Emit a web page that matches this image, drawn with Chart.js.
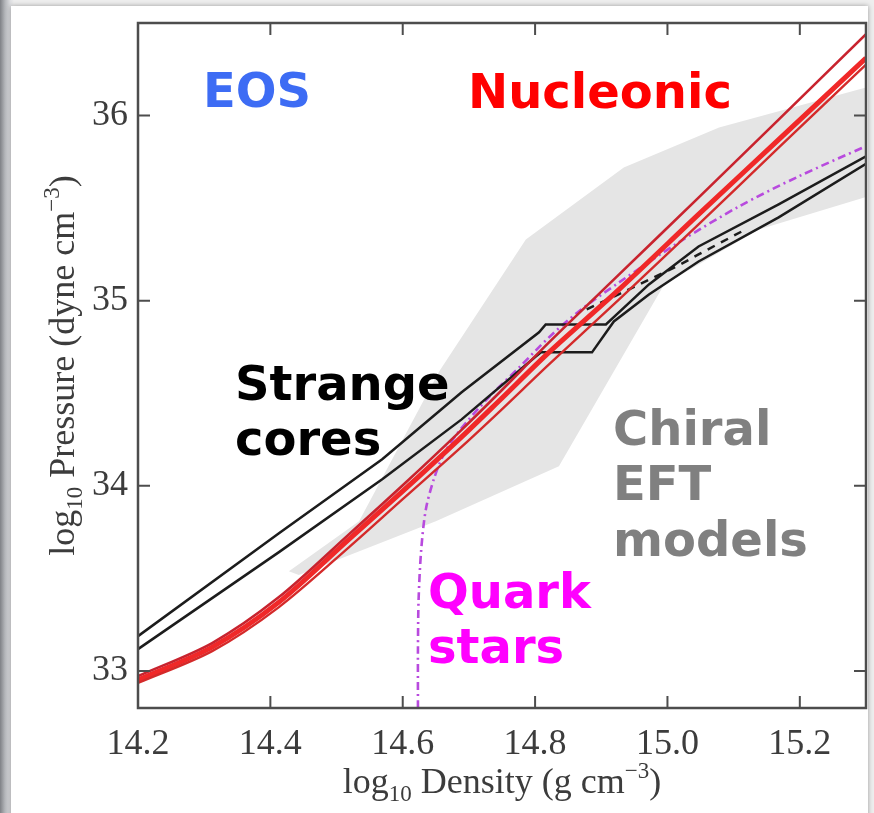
<!DOCTYPE html>
<html><head><meta charset="utf-8">
<script src="https://cdn.jsdelivr.net/npm/chart.js@4.4.1/dist/chart.umd.min.js"></script>
<style>
html,body{margin:0;padding:0;width:874px;height:813px;overflow:hidden;}
body{background:linear-gradient(to right,#7f8186 0px,#b4b6ba 5px,#dcdde0 10px,#eeeeee 14px);}
#card{position:absolute;left:11px;top:6px;width:857px;height:820px;background:#fff;box-shadow:0 0 5px rgba(0,0,0,0.35);}
#c{position:absolute;left:0;top:0;}
</style></head><body>
<div id="card"></div>
<canvas id="c" width="874" height="813"></canvas>
<script>
// ---------- data ----------
const densityTicks  = [14.2, 14.4, 14.6, 14.8, 15.0, 15.2];
const pressureTicks = [33, 34, 35, 36];

// Strange-core EOS (black, solid)
const strangeA_density  = [14.200, 14.413, 14.569, 14.689, 14.806, 14.816, 14.907, 14.972, 15.047, 15.168, 15.300];
const strangeA_pressure = [33.188, 33.744, 34.144, 34.505, 34.829, 34.872, 34.872, 35.088, 35.293, 35.520, 35.780];
const strangeB_density  = [14.200, 14.413, 14.569, 14.689, 14.801, 14.809, 14.886, 14.919, 14.972, 15.047, 15.168, 15.300];
const strangeB_pressure = [33.118, 33.642, 34.036, 34.359, 34.699, 34.721, 34.721, 34.888, 35.034, 35.212, 35.450, 35.740];
// Strange-core EOS (black, dashed)
const strangeC_density  = [14.878, 14.942, 15.017, 15.047, 15.081, 15.115];
const strangeC_pressure = [34.953, 35.061, 35.191, 35.250, 35.315, 35.379];

// Nucleonic EOS (red)
const nucleonic_density    = [14.200, 14.312, 14.413, 14.519, 14.600, 14.685, 14.745, 14.821, 14.927, 15.047, 15.168, 15.300];
const nucleonic1_pressure  = [32.972, 33.151, 33.399, 33.739, 34.003, 34.289, 34.500, 34.775, 35.142, 35.557, 35.978, 36.440];
const nucleonic2_pressure  = [32.951, 33.129, 33.372, 33.712, 33.971, 34.251, 34.457, 34.721, 35.061, 35.466, 35.870, 36.310];
const nucleonic3_pressure  = [32.935, 33.107, 33.345, 33.669, 33.928, 34.198, 34.397, 34.656, 35.007, 35.412, 35.827, 36.275];

// Quark star EOS (magenta, dash-dot)
const quark_density  = [14.623, 14.623, 14.624, 14.628, 14.635, 14.647, 14.662, 14.685, 14.730, 14.776, 14.821, 14.866, 14.927, 15.017, 15.108, 15.198, 15.300];
const quark_pressure = [32.800, 33.118, 33.388, 33.658, 33.874, 34.036, 34.170, 34.295, 34.478, 34.640, 34.802, 34.942, 35.099, 35.315, 35.509, 35.671, 35.835];

// Chiral EFT band (grey polygon outline)
const chiral_density  = [14.428, 14.534, 14.655, 14.786, 14.934, 15.078, 15.300, 15.300, 15.138, 14.995, 14.836, 14.650, 14.443, 14.428];
const chiral_pressure = [33.539, 33.809, 34.618, 35.331, 35.719, 35.935, 36.151, 35.560, 35.385, 35.088, 34.106, 33.809, 33.518, 33.539];

// ---------- helpers ----------
const zip = (xs, ys) => xs.map((x, i) => ({x: x, y: ys[i]}));
const serif = "'Liberation Serif', 'Times New Roman', serif";
const sans  = "'DejaVu Sans', Verdana, sans-serif";

function line(data, color, width, opts) {
  return Object.assign({data: data, showLine: true, borderColor: color, backgroundColor: color,
    borderWidth: width, pointRadius: 0, fill: false, tension: 0}, opts || {});
}

const datasets = [
  line(zip(nucleonic_density, nucleonic1_pressure), '#c8232e', 2.6, {tension: 0.3}),
  line(zip(nucleonic_density, nucleonic3_pressure), '#d42a2a', 2.4, {tension: 0.3}),
  line(zip(nucleonic_density, nucleonic2_pressure), '#f02828', 5, {tension: 0.3}),
  line(zip(strangeA_density, strangeA_pressure), '#1c1c1c', 2.5),
  line(zip(strangeB_density, strangeB_pressure), '#1c1c1c', 2.5),
  line(zip(strangeC_density, strangeC_pressure), '#1c1c1c', 2.5, {borderDash: [8, 7]}),
  line(zip(quark_density, quark_pressure), '#b84ade', 2.6, {tension: 0.3, borderDash: [8, 4, 2, 4]}),
  {data: zip(chiral_density, chiral_pressure), showLine: true, pointRadius: 0, borderWidth: 0,
   borderColor: 'rgba(0,0,0,0)', backgroundColor: '#e5e5e5', fill: 'shape', tension: 0}
];

const annotations = [
  {text: 'EOS',       px: 203, py: 107, color: '#3d6cf4'},
  {text: 'Nucleonic', px: 468, py: 108, color: '#ff0000'},
  {text: 'Strange',   px: 235, py: 400, color: '#000000'},
  {text: 'cores',     px: 235, py: 455, color: '#000000'},
  {text: 'Chiral',    px: 613, py: 445, color: '#808080'},
  {text: 'EFT',       px: 613, py: 500, color: '#808080'},
  {text: 'models',    px: 613, py: 556, color: '#808080'},
  {text: 'Quark',     px: 428, py: 608, color: '#ff00ff'},
  {text: 'stars',     px: 428, py: 663, color: '#ff00ff'}
];

function drawMixed(ctx, parts, cx, baseY) {
  const big = '36px ' + serif, small = '23px ' + serif;
  let w = 0;
  parts.forEach(p => { ctx.font = p.s ? small : big; p.w = ctx.measureText(p.t).width; w += p.w; });
  let x = cx - w / 2;
  ctx.textAlign = 'left';
  ctx.textBaseline = 'alphabetic';
  parts.forEach(p => {
    ctx.font = p.s ? small : big;
    const dy = p.s === 'sub' ? 8 : (p.s === 'sup' ? -15 : 0);
    ctx.fillText(p.t, x, baseY + dy);
    x += p.w;
  });
}

const framePlugin = {
  id: 'frame',
  afterDatasetsDraw(chart) {
    const {ctx, chartArea: a, scales} = chart;
    const xs = scales.x, ys = scales.y;
    ctx.save();
    ctx.strokeStyle = '#4d4d4d';
    ctx.lineWidth = 2.5;
    ctx.strokeRect(a.left, a.top, a.right - a.left, a.bottom - a.top);
    ctx.lineWidth = 2;
    const L = 12;
    ctx.beginPath();
    densityTicks.forEach(v => {
      const p = xs.getPixelForValue(v);
      ctx.moveTo(p, a.bottom); ctx.lineTo(p, a.bottom - L);
      ctx.moveTo(p, a.top); ctx.lineTo(p, a.top + L);
    });
    pressureTicks.forEach(v => {
      const p = ys.getPixelForValue(v);
      ctx.moveTo(a.left, p); ctx.lineTo(a.left + L, p);
      ctx.moveTo(a.right, p); ctx.lineTo(a.right - L, p);
    });
    ctx.stroke();
    ctx.restore();
  },
  afterDraw(chart) {
    const {ctx, chartArea: a} = chart;
    ctx.save();
    ctx.fillStyle = '#3c3c3c';
    drawMixed(ctx, [{t: 'log'}, {t: '10', s: 'sub'}, {t: ' Density (g cm'}, {t: '\u22123', s: 'sup'}, {t: ')'}],
      (a.left + a.right) / 2, 793);
    ctx.save();
    ctx.translate(74, (a.top + a.bottom) / 2);
    ctx.rotate(-Math.PI / 2);
    drawMixed(ctx, [{t: 'log'}, {t: '10', s: 'sub'}, {t: ' Pressure (dyne cm'}, {t: '\u22123', s: 'sup'}, {t: ')'}], 0, 0);
    ctx.restore();
    ctx.font = 'bold 48px ' + sans;
    ctx.textAlign = 'left';
    ctx.textBaseline = 'alphabetic';
    annotations.forEach(t => { ctx.fillStyle = t.color; ctx.fillText(t.text, t.px, t.py); });
    ctx.restore();
  }
};

new Chart(document.getElementById('c'), {
  type: 'scatter',
  data: {datasets: datasets},
  options: {
    responsive: false,
    animation: false,
    events: [],
    layout: {padding: {left: 0, top: 23, right: 8, bottom: 0}},
    plugins: {legend: {display: false}, tooltip: {enabled: false}},
    scales: {
      x: {
        type: 'linear', min: 14.2, max: 15.3,
        grid: {display: false, drawTicks: false, tickLength: 0},
        border: {display: false},
        afterBuildTicks: s => { s.ticks = densityTicks.map(v => ({value: v})); },
        afterFit: s => { s.height = 105; s.paddingLeft = 0; s.paddingRight = 0; },
        ticks: {autoSkip: false, maxRotation: 0, padding: 15, color: '#3c3c3c',
          font: {family: serif, size: 36}, callback: v => Number(v).toFixed(1)}
      },
      y: {
        type: 'linear', min: 32.8, max: 36.5,
        grid: {display: false, drawTicks: false, tickLength: 0},
        border: {display: false},
        afterBuildTicks: s => { s.ticks = pressureTicks.map(v => ({value: v})); },
        afterFit: s => { s.width = 138; s.paddingTop = 0; s.paddingBottom = 0; },
        ticks: {autoSkip: false, padding: 10, color: '#3c3c3c',
          font: {family: serif, size: 36}, callback: v => String(v)}
      }
    }
  },
  plugins: [framePlugin]
});
</script></body></html>
